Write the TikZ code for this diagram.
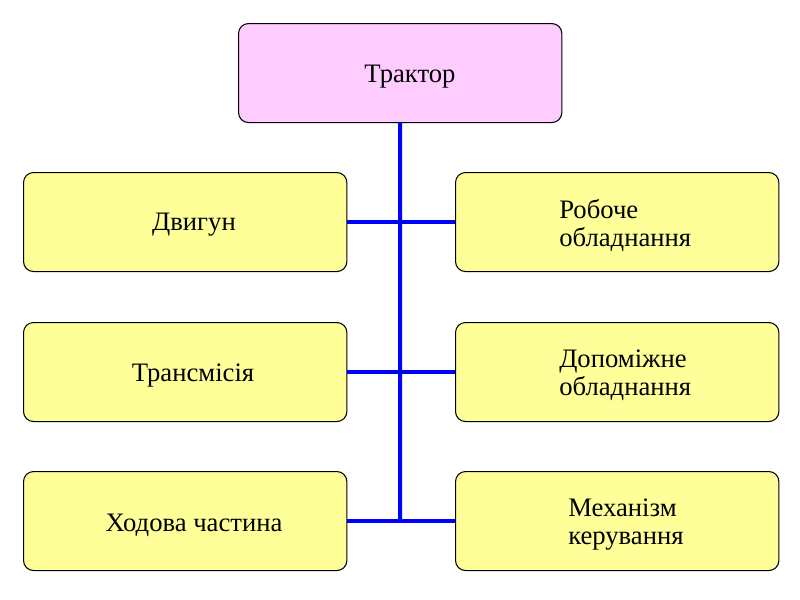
\documentclass[tikz,border=0pt]{standalone}
\usepackage{fontspec}
\setmainfont{Liberation Serif}
\begin{document}
\begin{tikzpicture}[x=0.75pt,y=-0.75pt,
  box/.style={draw=black,line width=0.8pt,rounded corners=7.5pt,minimum width=242.5pt,minimum height=74.25pt,inner sep=0pt,anchor=north west},
  ybox/.style={box,fill=boxyellow},
  pbox/.style={box,fill=boxpink},
  lbl/.style={font=\fontsize{20}{21}\selectfont,inner sep=0pt,text=black},
  conn/.style={draw=lineblue,line width=3pt}]
\definecolor{boxyellow}{HTML}{FFFF99}
\definecolor{boxpink}{HTML}{FFCCFF}
\definecolor{lineblue}{HTML}{0000FF}
\useasboundingbox (0,0) rectangle (800,600);
\fill[white] (0,0) rectangle (800,600);
% boxes
\node[pbox] (top) at (238,23) {};
\node[ybox] (l1) at (23,172) {};
\node[ybox] (l2) at (23,322) {};
\node[ybox] (l3) at (23,471) {};
\node[ybox] (r1) at (455,172) {};
\node[ybox] (r2) at (455,322) {};
\node[ybox] (r3) at (455,471) {};
% connectors
\coordinate (j1) at (400,221);
\coordinate (j2) at (400,371);
\coordinate (j3) at (400,520);
\draw[conn] (top.south) -- (j3);
\draw[conn] (l1.east) -- (r1.west);
\draw[conn] (l2.east) -- (r2.west);
\draw[conn] (l3.east) -- (r3.west);
% labels
\node[lbl,anchor=base] (t0) at (410,82) {Трактор};
\node[lbl,anchor=base] (t1) at (194,230) {Двигун};
\node[lbl,anchor=base] (t2) at (193,381) {Трансмісія};
\node[lbl,anchor=base] (t3) at (194,531) {Ходова частина};
\node[lbl,anchor=base west,align=left] (t4) at (559,246) {Робоче\\обладнання};
\node[lbl,anchor=base west,align=left] (t5) at (559,395) {Допоміжне\\обладнання};
\node[lbl,anchor=base west,align=left] (t6) at (568,544) {Механізм\\керування};
\end{tikzpicture}
\end{document}
